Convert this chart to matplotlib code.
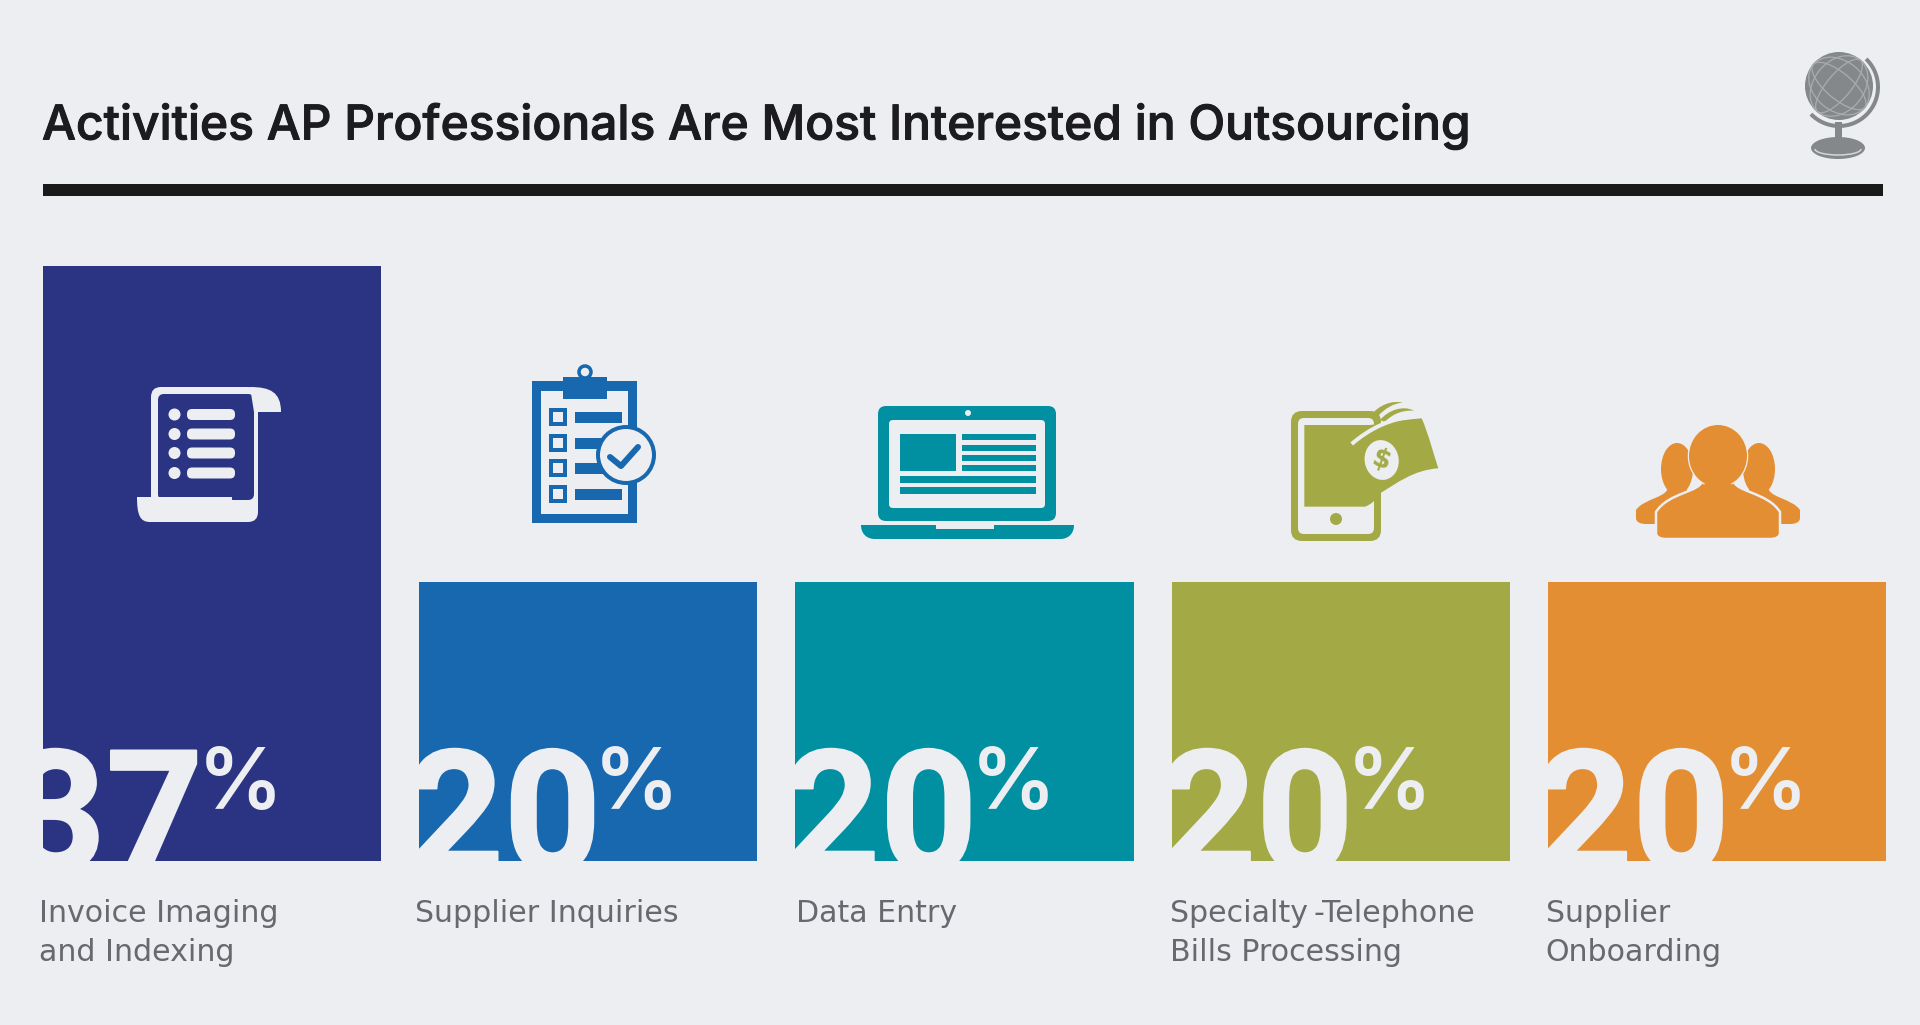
import matplotlib
matplotlib.use('Agg')
import matplotlib.pyplot as plt
import matplotlib.patheffects as pe
import numpy as np
from matplotlib.patches import Rectangle, Circle, Ellipse, FancyBboxPatch, PathPatch, Arc
from matplotlib.path import Path

categories = ['Invoice Imaging\nand Indexing', 'Supplier Inquiries', 'Data Entry',
              'Specialty\u2009-Telephone\nBills Processing', 'Supplier\nOnboarding']
values = np.array([37, 20, 20, 20, 20])
bar_colors = ['#2b3483', '#1868b0', '#0090a2', '#a3aa45', '#e48e33']
title = 'Activities AP Professionals Are Most Interested in Outsourcing'

BG = '#eceef1'
TEXT = '#68686e'
PT = 0.72  # points per pixel at dpi 100
baseline = 5  # value axis does not start at zero

fig = plt.figure(figsize=(19.2, 10.25), dpi=100, facecolor=BG)

ax = fig.add_axes([43 / 1920, (1025 - 861) / 1025, 1843 / 1920, 595 / 1025])
x = np.arange(len(values))
bars = ax.bar(x, values - baseline, bottom=baseline, width=0.899, color=bar_colors)
ax.set_xlim(-0.4495, 4.4495)
ax.set_ylim(baseline, values.max())
ax.axis('off')

# big percentages are cut off by the edges of their bars
label_nudge = [-4, -4, 1, -2, -2]
for i, b in enumerate(bars):
    left = (b.get_x(), baseline)
    v = values[i]
    num_dx = 160 if v == 37 else 182
    pct_dx = 155 if v == 37 else 175
    t = ax.annotate(str(v), left, xytext=(num_dx * PT, -10 * PT), textcoords='offset points',
                    ha='right', va='baseline', fontsize=122, fontweight='bold', family='Roboto',
                    color=BG, annotation_clip=False,
                    path_effects=[pe.withStroke(linewidth=1.5, foreground=BG)])
    t.set_clip_path(b)
    ax.annotate('%', left, xytext=(pct_dx * PT, 52 * PT), textcoords='offset points',
                ha='left', va='baseline', fontsize=61, fontweight='semibold', family='Inter',
                color=BG, annotation_clip=False)
    ax.annotate(categories[i], left, xytext=((label_nudge[i]) * PT, -38 * PT), textcoords='offset points',
                ha='left', va='top', fontsize=21.6, color=TEXT, family='DejaVu Sans',
                linespacing=1.42, annotation_clip=False)

# overlay in pixel coordinates for the title rule and the icons
ov = fig.add_axes([0, 0, 1, 1], zorder=5)
ov.set_xlim(0, 1920)
ov.set_ylim(1025, 0)
ov.axis('off')

ov.text(42, 126, title, fontsize=34.5, fontweight='medium', family='Inter', color='#1c1c1e',
        ha='left', va='center', path_effects=[pe.withStroke(linewidth=0.7, foreground='#1c1c1e')])
ov.add_patch(Rectangle((43, 184), 1840, 12, color='#1a1a1a', lw=0))


def rrect(x0, y0, x1, y1, r, color, z=1):
    ov.add_patch(FancyBboxPatch((x0 + r, y0 + r), x1 - x0 - 2 * r, y1 - y0 - 2 * r,
                                boxstyle='round,pad=%g,rounding_size=%g' % (r, r),
                                fc=color, ec='none', lw=0, zorder=z))


def rect(x0, y0, x1, y1, color, z=1):
    ov.add_patch(Rectangle((x0, y0), x1 - x0, y1 - y0, fc=color, ec='none', lw=0, zorder=z))


def curve(verts, color, z=1, ec='none', lw=0):
    # verts: first point then triples of cubic control points
    codes = [Path.MOVETO] + [Path.CURVE4] * (len(verts) - 1)
    ov.add_patch(PathPatch(Path(verts, codes), fc=color, ec=ec, lw=lw * PT, zorder=z))


# scroll
W = BG
NAVY = bar_colors[0]
rrect(151, 387, 258, 522, 10, W)
rrect(158, 394, 254, 500, 6, NAVY, 2)
curve([(250, 387), (270, 387), (281, 392), (281, 412), (281, 412), (254, 412), (254, 412)], W, 3)
rect(254, 412, 258, 505, W, 3)
curve([(137, 497), (137, 497), (232, 497), (232, 497), (232, 510), (238, 514), (246, 514),
       (250, 514), (254, 510), (254, 505), (258, 515), (255, 522), (240, 522), (240, 522),
       (150, 522), (150, 522), (140, 522), (137, 515), (137, 497)], W, 3)
for yy in [414.5, 434, 453, 473]:
    ov.add_patch(Circle((174.5, yy), 6, fc=W, ec='none', zorder=3))
    rrect(187, yy - 5.5, 235, yy + 5.5, 5, W, 3)

# clipboard
BLUE = bar_colors[1]
rect(532, 381, 637, 523, BLUE)
rect(541, 391, 628, 514, BG, 2)
rect(563, 377, 607, 399, BLUE, 3)
ov.add_patch(Circle((585, 372), 6, fc=BG, ec=BLUE, lw=3.5 * PT, zorder=2.5))
for yy in [417, 443, 468, 494]:
    ov.add_patch(Rectangle((551, yy - 7), 14, 14, fc=BG, ec=BLUE, lw=4 * PT, zorder=3))
    rect(575, yy - 5.5, 622, yy + 5.5, BLUE, 3)
ov.add_patch(Circle((626, 455), 28, fc=BG, ec=BLUE, lw=4 * PT, zorder=4))
ov.plot([610, 621, 638], [457, 466, 447], color=BLUE, lw=6 * PT, zorder=5,
        solid_capstyle='round', solid_joinstyle='round')

# laptop
TEAL = bar_colors[2]
rrect(878, 406, 1056, 521, 8, TEAL)
rrect(889, 420, 1045, 508, 4, BG, 2)
ov.add_patch(Circle((968, 413), 3, fc=BG, ec='none', zorder=3))
curve([(861, 525), (861, 525), (1074, 525), (1074, 525), (1074, 534), (1068, 539), (1060, 539),
       (1060, 539), (875, 539), (875, 539), (867, 539), (861, 534), (861, 525)], TEAL)
rect(936, 525, 994, 529, BG, 2)
rect(900, 434, 956, 471, TEAL, 3)
for y0 in [434, 445, 455, 465]:
    rect(962, y0, 1036, y0 + 6, TEAL, 3)
for y0 in [476, 487]:
    rect(900, y0, 1036, y0 + 7, TEAL, 3)


# tablet with banknote, laid out on a 3x grid offset from (1270, 390)
def grid(pts):
    return [(1270 + a / 3, 390 + b / 3) for a, b in pts]


OLIVE = bar_colors[3]
rrect(1291, 411, 1381, 541, 11, OLIVE)
rrect(1298, 418, 1374, 534, 6, BG, 2)
ov.add_patch(Circle((1336, 519), 6, fc=OLIVE, ec='none', zorder=3))
# screen plus the note lying over its corner
curve(grid([(103, 105), (103, 105), (300, 105), (300, 105), (340, 100), (390, 90), (455, 85),
            (475, 130), (490, 190), (505, 235), (430, 240), (380, 280), (330, 310),
            (320, 330), (300, 345), (285, 350), (285, 350), (103, 350), (103, 350),
            (103, 350), (103, 105), (103, 105)]), OLIVE, 3)
# loose edges of the note
curve(grid([(330, 90), (355, 60), (400, 45), (432, 62), (400, 60), (370, 70), (345, 95),
            (340, 95), (335, 92), (330, 90)]), OLIVE, 4)
curve(grid([(305, 72), (330, 45), (365, 30), (398, 38), (370, 40), (345, 55), (322, 80),
            (315, 78), (310, 75), (305, 72)]), OLIVE, 4)
curve(grid([(245, 162), (300, 115), (360, 85), (440, 78)]), 'none', 5, ec=BG, lw=4)
ov.add_patch(Ellipse(grid([(335, 210)])[0], 34, 40, angle=-10, fc=BG, ec='none', zorder=5))
ov.text(*grid([(335, 212)])[0], '$', color=OLIVE, fontsize=19, fontweight='bold', rotation=-20,
        ha='center', va='center', zorder=6, family='DejaVu Sans')

# group of people
ORANGE = bar_colors[4]


def person(cx, head_y, rx, ry, bw, neck, sy, bottom, z, ec='none', lw=0):
    n = rx * 0.55
    curve([(cx - n, neck - 6), (cx - n, neck + 6), (cx - bw * 0.8, neck + 6), (cx - bw, sy),
           (cx - bw, sy + 6), (cx - bw, bottom - 6), (cx - bw, bottom - 6),
           (cx - bw, bottom - 2), (cx - bw + 4, bottom), (cx - bw + 10, bottom),
           (cx - bw + 10, bottom), (cx + bw - 10, bottom), (cx + bw - 10, bottom),
           (cx + bw - 4, bottom), (cx + bw, bottom - 2), (cx + bw, bottom - 6),
           (cx + bw, bottom - 6), (cx + bw, sy + 6), (cx + bw, sy),
           (cx + bw * 0.8, neck + 6), (cx + n, neck + 6), (cx + n, neck - 6),
           (cx, neck - 10), (cx, neck - 10), (cx - n, neck - 6)], ORANGE, z, ec=ec, lw=lw)
    ov.add_patch(Ellipse((cx, head_y), rx * 2, ry * 2, fc=ORANGE, ec=ec, lw=lw * PT, zorder=z))
    if lw:
        ov.add_patch(Ellipse((cx, head_y), rx * 2, ry * 2, fc=ORANGE, ec='none', zorder=z + 0.5))
        ov.add_patch(Ellipse((cx, neck + 4), n * 2.2, 18, fc=ORANGE, ec='none', zorder=z + 0.5))


person(1677, 469, 16, 26, 41, 492, 510, 524, 1)
person(1759, 469, 16, 26, 41, 492, 510, 524, 1)
person(1718, 456, 29, 31, 62, 486, 512, 539, 2, ec=BG, lw=2.5)

# globe
GRAY = '#85888a'
ov.add_patch(Circle((1839, 86), 34, fc=GRAY, ec='none', zorder=1))
for w, h, ang in [(24, 67, 40), (50, 67, 40), (67, 26, 40), (67, 50, 40)]:
    ov.add_patch(Ellipse((1839, 86), w, h, angle=ang, fc='none', ec='#a9abad', lw=1.3 * PT, zorder=2))
ov.add_patch(Arc((1839, 87), 78, 78, angle=0, theta1=-46, theta2=136, ec=GRAY, lw=4 * PT, zorder=3))
ov.add_patch(Rectangle((1835, 122), 7, 20, fc=GRAY, ec='none', zorder=1))
ov.add_patch(Ellipse((1838, 148), 54, 22, fc=GRAY, ec='none', zorder=2))
ov.add_patch(Arc((1838, 149), 46, 12, theta1=0, theta2=180, ec='#d5d6d8', lw=1.5 * PT, zorder=3))

fig.savefig('out.png', dpi=100, facecolor=BG)
